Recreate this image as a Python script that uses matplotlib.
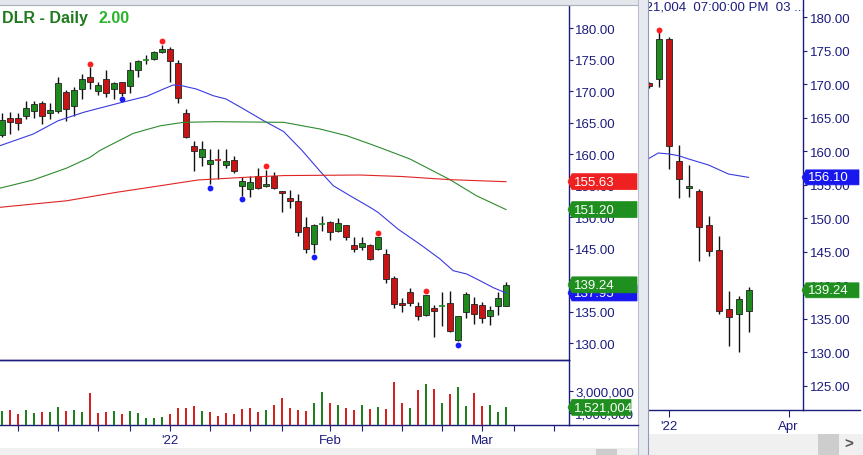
import matplotlib
matplotlib.use("Agg")
import matplotlib.pyplot as plt
from matplotlib.patches import Polygon, Rectangle
from matplotlib.lines import Line2D
from matplotlib.ticker import FuncFormatter

plt.rcParams['font.family'] = ['Liberation Sans', 'DejaVu Sans']

W, H = 863, 456

# ---- daily data (DLR) ----
d_open = [163.05, 165.7, 165.7, 166.1, 166.9, 168.1, 166.5, 166.9, 169.8, 167.6,
          170.35, 172.2, 170.1, 171.9, 170.35, 171.4, 170.8, 173.4, 175.0, 175.1,
          176.3, 176.7, 174.5, 166.5, 161.35, 159.6, 158.4, 159.15, 158.3, 159.0,
          155.0, 154.4, 156.5, 154.9, 156.5, 154.15, 153.0, 152.6, 148.5, 145.7,
          148.95, 149.3, 147.75, 148.7, 145.6, 145.2, 145.57, 145.0, 144.1, 140.4,
          136.35, 138.05, 135.93, 134.45, 135.56, 135.8, 136.35, 130.5, 134.9, 136.15,
          136.0, 134.34, 135.93, 135.93]
d_high = [166.6, 166.7, 166.6, 168.5, 168.5, 168.5, 168.1, 172.2, 170.25, 170.6,
          172.7, 173.8, 171.5, 173.3, 171.4, 171.5, 174.6, 175.0, 175.8, 176.4,
          177.4, 177.0, 175.0, 167.2, 162.1, 162.1, 160.9, 160.8, 160.8, 159.7,
          156.3, 156.5, 157.75, 157.5, 157.1, 154.2, 154.3, 153.67, 149.97, 148.85,
          150.13, 149.4, 149.86, 148.75, 146.8, 146.8, 145.73, 146.9, 144.9, 140.7,
          137.1, 138.69, 136.5, 137.7, 136.04, 138.15, 138.3, 134.3, 138.15, 137.26,
          136.56, 135.83, 138.05, 139.64]
d_low = [162.8, 163.2, 163.8, 165.6, 165.7, 164.75, 165.6, 166.5, 165.2, 166.1,
         168.8, 170.35, 169.45, 169.1, 168.8, 169.3, 169.7, 172.2, 174.3, 175.0,
         176.0, 171.5, 168.1, 162.5, 157.4, 158.2, 155.3, 156.05, 157.75, 156.96,
         153.4, 153.24, 154.5, 154.85, 154.47, 150.8, 151.45, 147.05, 144.25, 144.3,
         147.75, 146.4, 147.6, 146.4, 144.41, 144.83, 143.24, 144.8, 139.5, 135.6,
         134.97, 135.9, 133.7, 134.3, 130.9, 132.75, 131.8, 130.3, 133.9, 133.0,
         133.18, 132.9, 134.45, 135.9]
d_close = [165.5, 165.1, 165.0, 167.3, 167.9, 166.1, 167.0, 171.3, 167.2, 170.25,
           171.9, 171.4, 171.0, 169.7, 171.26, 169.7, 173.4, 174.8, 175.15, 176.2,
           176.7, 174.85, 168.9, 162.7, 160.55, 160.9, 159.07, 159.0, 158.9, 157.4,
           155.7, 155.65, 154.7, 155.26, 154.7, 153.8, 152.5, 147.6, 145.0, 148.75,
           149.05, 147.6, 149.0, 146.8, 145.0, 145.84, 143.4, 146.8, 140.2, 136.15,
           136.0, 136.35, 134.34, 137.63, 135.04, 135.85, 131.95, 134.25, 137.74, 134.66,
           133.9, 135.24, 137.15, 139.24]
d_volume_m = [1.24, 1.29, 0.94, 1.29, 1.06, 1.15, 1.15, 1.56, 1.21, 1.29, 1.15,
              2.79, 1.06, 1.15, 1.21, 0.94, 1.21, 1.06, 0.59, 0.59, 0.68, 0.94,
              1.47, 1.47, 1.65, 1.21, 1.15, 0.76, 1.03, 0.97, 1.38, 1.47, 1.15,
              1.29, 1.72, 2.35, 1.47, 1.29, 1.21, 1.91, 2.88, 1.91, 1.74, 1.47,
              1.29, 1.74, 1.38, 1.56, 1.38, 3.77, 1.91, 1.47, 3.06, 3.56, 3.12,
              1.88, 2.68, 3.29, 1.62, 2.77, 1.62, 1.71, 1.09, 1.521004]
peak_idx = [11, 20, 33, 47, 53]
trough_idx = [15, 26, 30, 39, 57]

# moving averages, read at sample bars
ma_blue_x = [-0.25, 3.9, 7.0, 10.2, 15.0, 18.1, 20.0, 21.4, 22.4, 24.3, 26.4, 28.0,
             30.2, 32.7, 35.2, 37.5, 39.75, 41.4, 43.5, 46.0, 47.0, 49.5, 52.5,
             54.75, 56.4, 58.1, 59.75, 61.4, 63.0]
ma_blue_y = [161.35, 163.2, 165.3, 166.65, 168.24, 169.2, 170.25, 170.99, 170.9,
             170.35, 169.29, 168.77, 167.18, 165.32, 163.6, 160.6, 157.3, 155.0,
             153.4, 151.56, 150.76, 148.1, 145.46, 143.35, 141.49, 140.96, 139.9,
             138.8, 137.95]
ma_green_x = [-0.25, 3.9, 8.1, 11.0, 12.25, 16.4, 19.75, 22.7, 26.8, 35.2, 39.75,
              43.1, 46.0, 47.7, 51.0, 56.0, 59.3, 63.0]
ma_green_y = [154.6, 155.9, 157.8, 159.5, 160.6, 163.3, 164.5, 165.06, 165.16,
              165.06, 164.0, 162.93, 161.62, 160.82, 159.23, 155.95, 153.4, 151.2]
ma_red_x = [-0.25, 8.1, 14.3, 18.5, 24.5, 30.0, 35.2, 44.75, 50.0, 56.0, 63.0]
ma_red_y = [151.56, 152.6, 153.94, 154.74, 155.9, 156.3, 156.6, 156.69, 156.45,
            155.95, 155.63]

date_ticks = [2, 7, 12, 16, 21, 26, 31, 35, 41, 45, 50, 55, 60, 64, 69]
date_labels = {21: "'22", 41: "Feb", 60: "Mar"}
price_ticks = [130, 135, 140, 145, 150, 155, 160, 165, 170, 175, 180]
vol_ticks = [1000000, 3000000]

# ---- weekly data ----
w_open = [170.15, 170.74, 176.76, 158.55, 154.47, 154.02, 149.0, 145.26, 136.45, 135.7, 136.2]
w_high = [170.3, 177.76, 177.0, 160.98, 158.0, 154.37, 150.38, 147.4, 139.18, 138.44, 139.78]
w_low = [169.5, 169.55, 157.35, 153.07, 153.22, 143.66, 144.41, 135.7, 130.97, 129.98, 133.06]
w_close = [169.7, 176.76, 160.83, 155.81, 154.77, 148.74, 145.07, 136.2, 135.2, 137.94, 139.24]
w_peak_idx = [1]
wma_x = [-0.05, 0.98, 2, 3, 4, 6, 8, 9, 10]
wma_y = [158.85, 159.74, 159.6, 159.34, 158.85, 157.95, 156.6, 156.35, 156.10]
w_price_ticks = [125, 130, 135, 140, 145, 150, 155, 160, 165, 170, 175, 180]
w_date_ticks = [2, 14]
w_date_labels = ["'22", "Apr"]

NAVY = '#1c1c7e'
GREEN = '#1d8a1d'
RED = '#c81414'
VGREEN = '#1f801f'
VRED = '#d42222'

fig = plt.figure(figsize=(W / 100, H / 100), dpi=100)


def px_axes(x0, y0, x1, y1):
    return fig.add_axes([x0 / W, 1 - y1 / H, (x1 - x0) / W, (y1 - y0) / H])


def candles(ax, o, h, l, c, width, wick_lw):
    for x in range(len(o)):
        col = GREEN if c[x] >= o[x] else RED
        ax.vlines(x, l[x], h[x], color='#111111', lw=wick_lw, zorder=2)
        body = abs(c[x] - o[x])
        if body < 0.2:
            # doji: coloured cross bar
            ax.hlines(o[x], x - width / 2, x + width / 2, color=col, lw=1.2, zorder=3)
        else:
            ax.bar(x, body, bottom=min(o[x], c[x]), width=width, color=col,
                   edgecolor='#222222', lw=0.6, zorder=3)


def tag(ax, value, text, color, x_tip, x0, x1, half_h, z):
    pos = ax.get_position()
    ax_x0, ax_w = pos.x0 * W, pos.width * W
    y0, y1 = ax.get_ylim()
    dy = half_h * (y1 - y0) / (pos.height * H)

    def fx(px):
        return (px - ax_x0) / ax_w
    pts = [(fx(x_tip), value), (fx(x0), value + dy), (fx(x1), value + dy),
           (fx(x1), value - dy), (fx(x0), value - dy)]
    ax.add_patch(Polygon(pts, closed=True, transform=ax.get_yaxis_transform(),
                         facecolor=color, edgecolor=color, lw=0.5,
                         clip_on=False, zorder=z))
    ax.text(fx(x0 + 2), value, text, transform=ax.get_yaxis_transform(),
            color='white', fontsize=9.5, va='center', ha='left',
            clip_on=False, zorder=z + 0.5)


def style_axis(ax):
    for s in ['top', 'left']:
        ax.spines[s].set_visible(False)
    for s in ['right', 'bottom']:
        ax.spines[s].set_color(NAVY)
        ax.spines[s].set_linewidth(1.0)
    ax.yaxis.tick_right()
    ax.tick_params(axis='y', direction='out', length=3, width=0.8, color=NAVY,
                   labelcolor=NAVY, labelsize=9.5, pad=1.5)


# ---- background pieces ----
fig.add_artist(Rectangle((0, 1 - 6 / H), 638 / W, 6 / H, transform=fig.transFigure,
                         facecolor='#e3e6eb', edgecolor='none'))
fig.add_artist(Line2D([0, 638 / W], [1 - 6 / H, 1 - 6 / H], transform=fig.transFigure,
                      color='#a9b1bd', lw=0.8))
fig.add_artist(Rectangle((638 / W, 0), 10 / W, 1, transform=fig.transFigure,
                         facecolor='#e6eaf0', edgecolor='none'))
fig.add_artist(Line2D([638 / W, 638 / W], [0, 1], transform=fig.transFigure,
                      color='#b9c0cc', lw=0.8))
fig.add_artist(Line2D([648 / W, 648 / W], [0, 1], transform=fig.transFigure,
                      color='#8f9aac', lw=0.8))
fig.add_artist(Rectangle((0, 0), 638 / W, 7 / H, transform=fig.transFigure,
                         facecolor='#f0f0f0', edgecolor='none'))
fig.add_artist(Rectangle((596 / W, 0), 21 / W, 6 / H, transform=fig.transFigure,
                         facecolor='#cdcdcd', edgecolor='none'))
fig.add_artist(Rectangle((649 / W, 0), (W - 649) / W, 21 / H, transform=fig.transFigure,
                         facecolor='#f0f0f0', edgecolor='none'))
fig.add_artist(Rectangle((818 / W, 0), 21 / W, 21 / H, transform=fig.transFigure,
                         facecolor='#cdcdcd', edgecolor='none'))
fig.text(849 / W, 1 - 445 / H, '>', color='#555555', fontsize=11, ha='center', va='center',
         fontweight='bold')

# ---- daily price panel ----
ax_p = px_axes(0, 6, 569, 361)
style_axis(ax_p)
ax_p.patch.set_visible(False)
candles(ax_p, d_open, d_high, d_low, d_close, 0.75, 1.0)
ax_p.plot(ma_blue_x, ma_blue_y, color='#3a3ae0', lw=0.8, zorder=5)
ax_p.plot(ma_green_x, ma_green_y, color='#2e8b2e', lw=0.8, zorder=5)
ax_p.plot(ma_red_x, ma_red_y, color='#e02424', lw=0.8, zorder=5)
ax_p.plot(peak_idx, [d_high[i] + 0.6 for i in peak_idx], 'o', color='#ff1f1f',
          ms=4.2, mec='none', zorder=6)
ax_p.plot(trough_idx, [d_low[i] - 0.6 for i in trough_idx], 'o', color='#1a1aff',
          ms=4.2, mec='none', zorder=6)
ax_p.set_xlim(-0.25, 70.875)
ax_p.set_ylim(127.30, 183.70)
ax_p.set_yticks(price_ticks)
ax_p.yaxis.set_major_formatter(FuncFormatter(lambda v, p: f"{v:.2f}"))
ax_p.set_xticks([])
tag(ax_p, ma_red_y[-1], f"{ma_red_y[-1]:.2f}", '#ee2020', 568, 572, 637, 8, 10)
tag(ax_p, ma_green_y[-1], f"{ma_green_y[-1]:.2f}", '#1f8f1f', 568, 572, 637, 8, 10)
tag(ax_p, ma_blue_y[-1], f"{ma_blue_y[-1]:.2f}", '#1818ee', 568, 572, 637, 8, 10)
tag(ax_p, d_close[-1], f"{d_close[-1]:.2f}", '#1f8f1f', 568, 572, 637, 8, 12)
fig.text(2 / W, 1 - 22.7 / H, 'DLR - Daily', color='#1f7a1f', fontsize=11.5,
         fontweight='bold', va='baseline', ha='left')
fig.text(98 / W, 1 - 22.7 / H, '2.00', color='#2ab42a', fontsize=11.5,
         fontweight='bold', va='baseline', ha='left')

# ---- daily volume panel ----
ax_v = px_axes(0, 361, 569, 425.5)
style_axis(ax_v)
ax_v.patch.set_visible(False)
vols = [v * 1e6 for v in d_volume_m]
vcols = [VGREEN] + [VGREEN if d_close[i] > d_close[i - 1] else VRED
                    for i in range(1, len(d_close))]
ax_v.bar(range(len(vols)), vols, width=0.28, color=vcols, zorder=3)
ax_v.set_xlim(-0.25, 70.875)
ax_v.set_ylim(0, 5.72e6)
ax_v.set_yticks(vol_ticks)
ax_v.yaxis.set_major_formatter(FuncFormatter(lambda v, p: f"{v:,.0f}"))
ax_v.set_xticks(date_ticks)
ax_v.set_xticklabels([date_labels.get(t, '') for t in date_ticks])
ax_v.tick_params(axis='x', direction='out', length=4, width=0.8, color=NAVY,
                 labelcolor=NAVY, labelsize=9.5, pad=2.5)
tag(ax_v, vols[-1], f"{int(round(vols[-1])):,}", '#1f8f1f', 568, 572, 631, 8, 12)
fig.add_artist(Line2D([569 / W, 638 / W], [1 - 425.5 / H, 1 - 425.5 / H],
                      transform=fig.transFigure, color=NAVY, lw=1.0))
fig.add_artist(Line2D([0, 569 / W], [1 - 361 / H, 1 - 361 / H],
                      transform=fig.transFigure, color=NAVY, lw=1.0))

# ---- weekly panel ----
ax_w = px_axes(648, 0, 803.3, 411)
style_axis(ax_w)
ax_w.patch.set_visible(False)
candles(ax_w, w_open, w_high, w_low, w_close, 0.6, 1.0)
ax_w.plot(wma_x, wma_y, color='#3a3ae0', lw=0.8, zorder=5)
ax_w.plot(w_peak_idx, [w_high[i] + 0.3 for i in w_peak_idx], 'o', color='#ff1f1f',
          ms=4.2, mec='none', zorder=6)
ax_w.set_xlim(-0.05, 15.48)
ax_w.set_ylim(121.37, 182.73)
ax_w.set_yticks(w_price_ticks)
ax_w.yaxis.set_major_formatter(FuncFormatter(lambda v, p: f"{v:.2f}"))
ax_w.set_xticks(w_date_ticks)
ax_w.set_xticklabels(w_date_labels)
ax_w.tick_params(axis='x', direction='out', length=5, width=0.8, color=NAVY,
                 labelcolor=NAVY, labelsize=9.5, pad=2)
tag(ax_w, wma_y[-1], f"{wma_y[-1]:.2f}", '#1818ee', 802, 806, 859, 7.5, 10)
tag(ax_w, w_close[-1], f"{w_close[-1]:.2f}", '#1f8f1f', 802, 806, 859, 7.5, 12)
ax_w.text((626.7 - 648) / 155.3, 1 - 10 / 411, '1,521,004  07:00:00 PM  03 ...',
          transform=ax_w.transAxes, color=NAVY, fontsize=9.5, va='baseline',
          ha='left', clip_on=True)
fig.add_artist(Line2D([803 / W, 860 / W], [1 - 411 / H, 1 - 411 / H],
                      transform=fig.transFigure, color=NAVY, lw=1.0))

fig.savefig('out.png', dpi=100)
